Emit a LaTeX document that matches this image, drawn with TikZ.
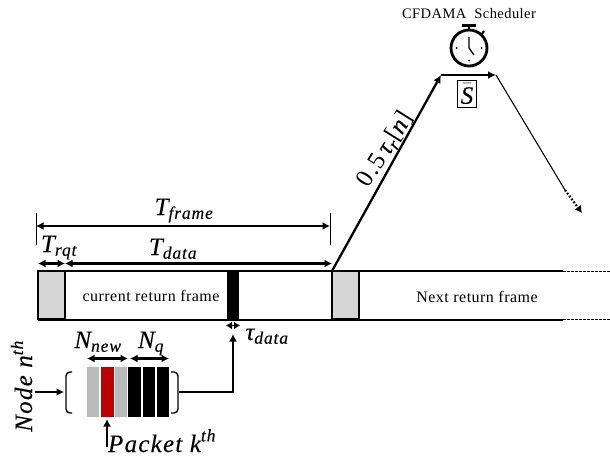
\documentclass[tikz,border=0pt]{standalone}
\usepackage{amsmath}
\usepackage{fontspec}
\newfontfamily\mf[LetterSpace=5,ItalicFeatures={FakeBold=0.15}]{Liberation Serif}
\newfontfamily\tf[LetterSpace=3]{Liberation Serif}
\newcommand{\vv}[1]{\text{\mf\itshape #1}}
\usetikzlibrary{arrows.meta}
\tikzset{
 thick line/.style={line width=2pt},
 arr/.style={line width=2.1pt,-{Latex[length=7.5pt,width=8pt]}},
 darr/.style={line width=2.1pt,{Latex[length=7.5pt,width=8pt]}-{Latex[length=7.5pt,width=8pt]}},
 graybox/.style={draw=black,line width=2pt,fill=black!16,minimum width=27pt,minimum height=48pt,inner sep=0pt},
 lbl/.style={inner sep=0pt,font=\fontsize{16}{17}\selectfont\tf},
 mth/.style={inner sep=0pt,anchor=base,font=\fontsize{25}{27}\selectfont},
}
\begin{document}
\begin{tikzpicture}[x=1pt,y=-1pt]
\useasboundingbox (0,0) rectangle (610,459);
% frames
\coordinate (fl) at (38,271);
\coordinate (fr) at (563,271);
\coordinate (bl) at (38,319.5);
\coordinate (br) at (563,319.5);
\coordinate (dr1) at (610,271);
\coordinate (dr2) at (610,319.5);
\node[graybox] (g1) at (51.5,295) {};
\node[graybox] (g2) at (345.5,295) {};
\draw[thick line] (fl) -- (fr);
\draw[thick line] (bl) -- (br);
\draw[line width=1pt,dash pattern=on 2.5pt off 1.5pt] (fr) -- (dr1);
\draw[line width=1pt,dash pattern=on 2.5pt off 1.5pt] (br) -- (dr2);
\fill (227,271) rectangle (239,319.5);
\node[lbl] at (151,296) {current return frame};
\node[lbl] at (477,296.5) {Next return frame};
% dims
\coordinate (t0) at (36,226); \coordinate (t1) at (330,226);
\draw[line width=0.9pt] (36,213) -- (36,245);
\draw[line width=0.9pt] (330,213) -- (330,245);
\draw[darr] (t0) -- (t1);
\node[mth] at (184,215) {$\vv{T}_{\vv{frame}}$};
\draw[darr] (38,263.5) -- (65,263.5);
\draw[darr] (65,263.5) -- (332,263.5);
\node[mth] at (59,252) {$\vv{T}_{\vv{rqt}}$};
\node[mth] at (173,255) {$\vv{T}_{\vv{data}}$};
% tau
\draw[line width=1.7pt,{Latex[length=6pt,width=8pt]}-{Latex[length=6pt,width=8pt]}] (226,325.5) -- (240,325.5);
\node[mth] at (267,340) {$\vv{τ}_{\vv{data}}$};
% queue
\fill[black!27] (87,367) rectangle (99,417);
\fill[red!75!black] (100.5,367) rectangle (113.5,417);
\fill[black!27] (115,367) rectangle (127,417);
\fill (128,367) rectangle (141,417);
\fill (142.5,367) rectangle (155,417);
\fill (156.5,367) rectangle (169,417);
\draw[line width=1.4pt,rounded corners=4pt] (72,372) -- (66,372) -- (66,413) -- (72,413);
\draw[line width=1.4pt,rounded corners=4pt] (171,372) -- (178,372) -- (178,413) -- (171,413);
\node[inner sep=0pt] (qout) at (178,392) {};
\coordinate (tauup) at (233,334);
\draw[line width=1.4pt] (qout) -- (233,392) -- (233,345);
\draw[arr] (233,350) -- (tauup);
\coordinate (nodein) at (35,392); \coordinate (brk) at (64,392);
\draw[arr] (nodein) -- (brk);
\coordinate (pk0) at (107,447); \coordinate (pk1) at (107,419);
\draw[arr] (pk0) -- (pk1);
\draw[darr] (87,358.5) -- (128,358.5);
\draw[darr] (130,358.5) -- (169,358.5);
\node[mth] at (98,348) {$\vv{N}_{\vv{new}}$};
\node[mth] at (151,348) {$\vv{N}_{\vv{q}}$};
\node[mth,rotate=90] at (32,386) {$\vv{Node}\ \vv{n}^{\vv{th}}$};
\node[mth] at (162,452) {$\vv{Packet}\ \vv{k}^{\vv{th}}$};
% upper path
\coordinate (peak1) at (441,75); \coordinate (peak2) at (496,75);
\coordinate (up0) at (332,271);
\draw[line width=2.3pt,-{Latex[length=8pt,width=8pt]}] (up0) -- (peak1);
\draw[line width=2.3pt,-{Latex[length=8pt,width=8pt]}] (peak1) -- (peak2);
\coordinate (dn1) at (565,190); \coordinate (dn2) at (582,213);
\draw[line width=1.1pt] (peak2) -- (dn1);
\draw[line width=2.2pt,dash pattern=on 1.8pt off 1.8pt,-{Latex[length=7pt,width=8pt]}] (dn1) -- (dn2);
\node[mth,rotate=58] at (391,153) {$\text{\mf 0.5}\,\vv{τ}_{\vv{r}}\text{\mf [}\vv{n}\text{\mf ]}$};
\node[draw,line width=1pt,inner sep=0pt,minimum width=19pt,minimum height=27pt,font=\fontsize{25}{27}\selectfont] (s) at (467,94) {$\bar{\vv{S}}$};
\node[lbl,font=\fontsize{14.5}{16}\selectfont\tf] (cf) at (469,14) {CFDAMA\ \ Scheduler};
% clock
\draw[line width=2.8pt] (469,48) circle (18);
\fill (461.5,24) rectangle (476,27);
\draw[line width=2.4pt] (469,26) -- (469,30);
\draw[line width=2.2pt] (482,34) -- (484,31);
\draw[line width=1.3pt] (469,37) -- (469,48) -- (474,55);
\foreach \a in {0,90,180}{\fill (469,48) ++(\a:12.5) circle (1);}
\end{tikzpicture}
\end{document}
